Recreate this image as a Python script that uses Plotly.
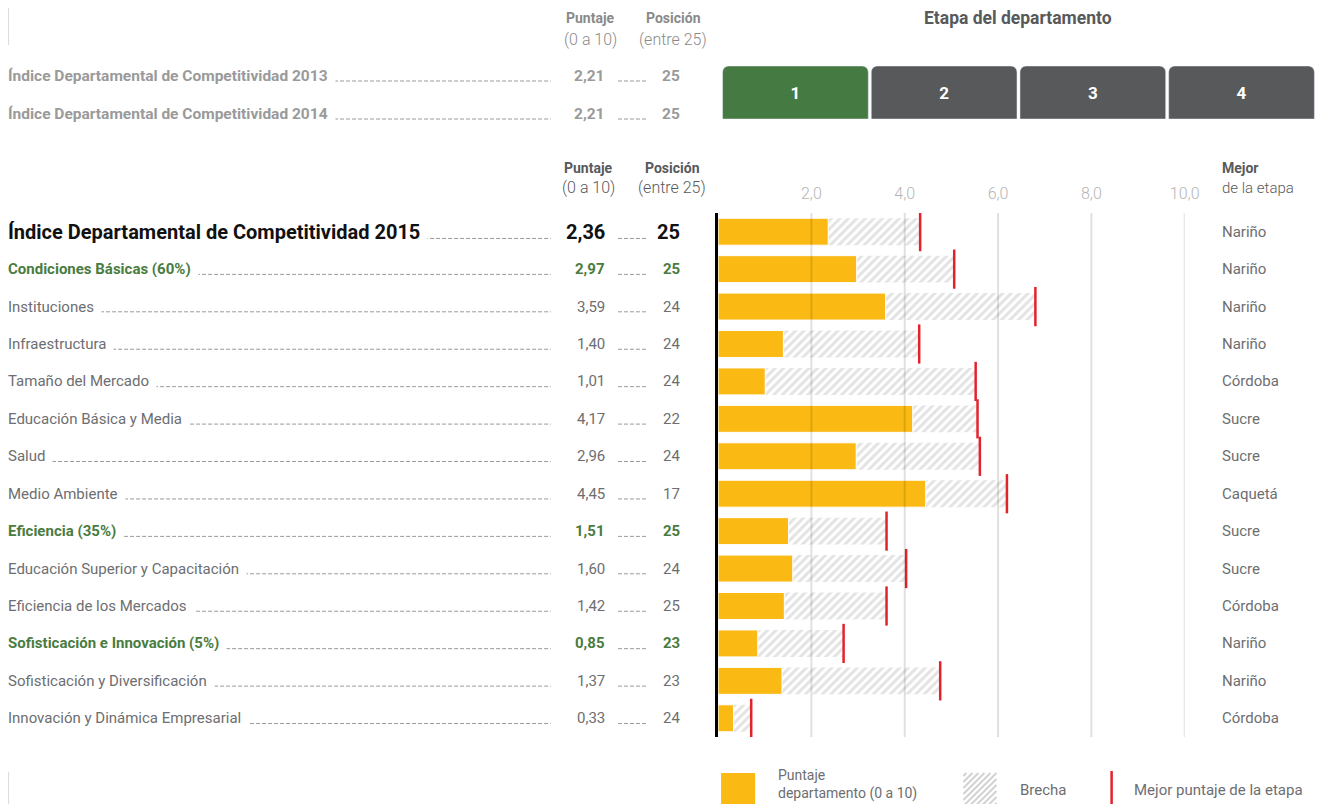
import plotly.graph_objects as go

# page layout compensation: 8px body margin, and the capture squeezes
# the page width slightly (1342 css px -> 1325 px)
MARGIN = 8
K = 1325 / 1342
W, H = 1326, 812 - 2 * MARGIN

# --- data ---
labels = [
    "Índice Departamental de Competitividad 2015",
    "Condiciones Básicas (60%)",
    "Instituciones",
    "Infraestructura",
    "Tamaño del Mercado",
    "Educación Básica y Media",
    "Salud",
    "Medio Ambiente",
    "Eficiencia (35%)",
    "Educación Superior y Capacitación",
    "Eficiencia de los Mercados",
    "Sofisticación e Innovación (5%)",
    "Sofisticación y Diversificación",
    "Innovación y Dinámica Empresarial",
]
levels = ["total", "pillar", "factor", "factor", "factor", "factor", "factor",
          "factor", "pillar", "factor", "factor", "pillar", "factor", "factor"]
scores = [2.36, 2.97, 3.59, 1.40, 1.01, 4.17, 2.96, 4.45, 1.51, 1.60, 1.42, 0.85, 1.37, 0.33]
positions = [25, 25, 24, 24, 24, 22, 24, 17, 25, 24, 25, 23, 23, 24]
best_scores = [4.33, 5.06, 6.80, 4.31, 5.52, 5.56, 5.61, 6.19, 3.61, 4.03, 3.61, 2.69, 4.76, 0.71]
best_depts = ["Nariño", "Nariño", "Nariño", "Nariño", "Córdoba", "Sucre", "Sucre",
              "Caquetá", "Sucre", "Sucre", "Córdoba", "Nariño", "Nariño", "Córdoba"]

prev_labels = ["Índice Departamental de Competitividad 2013",
               "Índice Departamental de Competitividad 2014"]
prev_scores = [2.21, 2.21]
prev_positions = [25, 25]

stages = ["1", "2", "3", "4"]
current_stage = "1"

ticks = [2, 4, 6, 8, 10]

YELLOW = "#fbb913"
GREEN = "#4a7c3f"
BOX_GREEN = "#457a43"
BOX_GRAY = "#58595b"
RED = "#e3232c"
TXT = "#6d6e71"
FONT = "Roboto"


def px(x):
    return (x / K - MARGIN) / W


def py(y):
    return 1 - (y - MARGIN) / H


def fmt(v):
    return f"{v:.2f}".replace(".", ",")


rows = list(range(len(labels)))

fig = go.Figure()

# brecha (gap up to best score of the stage)
fig.add_bar(
    x=[b - s for b, s in zip(best_scores, scores)], base=scores, y=rows,
    orientation="h", width=0.72, hoverinfo="skip",
    marker=dict(color="white", line=dict(width=0),
                pattern=dict(shape="/", fgcolor="#c8c8c8", bgcolor="white",
                             size=6, solidity=0.5)),
)
# department score
fig.add_bar(
    x=scores, y=rows, orientation="h", width=0.72,
    marker=dict(color=YELLOW, cornerradius=4, line=dict(color="white", width=1)),
)
# best score of the stage
fig.add_scatter(
    x=best_scores, y=rows, mode="markers",
    marker=dict(symbol="line-ns", size=28, line=dict(color=RED, width=2.5)),
)

# stage boxes
fig.add_bar(
    x=stages, y=[1] * len(stages), xaxis="x2", yaxis="y2", width=0.98,
    marker=dict(color=[BOX_GREEN if s == current_stage else BOX_GRAY for s in stages],
                cornerradius=6),
    text=stages, textposition="inside", insidetextanchor="middle", textangle=0,
    textfont=dict(color="white", size=17, family=FONT, weight="bold"),
)

shapes = []
ann = []


def add_text(x, y, text, size=15, color=TXT, bold=False, anchor="center",
             yref="paper", bg=None, pad=1, light=False, align="center"):
    a = dict(x=x, y=y, xref="paper", yref=yref, text=text, showarrow=False,
             xanchor=anchor, yanchor="middle", align=align,
             font=dict(family=FONT, size=size, color=color,
                       weight="bold" if bold else (300 if light else "normal")))
    if bg:
        a.update(bgcolor=bg, borderpad=pad)
    ann.append(a)


def dashed(x0, x1, y, yref="paper"):
    shapes.append(dict(type="line", xref="paper", yref=yref, x0=px(x0), x1=px(x1),
                       y0=y, y1=y, line=dict(color="#9a9a9a", width=1, dash="4px,2px")))


# gridlines above bars
for t in ticks:
    shapes.append(dict(type="line", xref="x", yref="paper", x0=t, x1=t,
                       y0=py(737), y1=py(213), layer="above",
                       line=dict(color="rgba(0,0,0,0.12)", width=2)))

# main rows: labels, leaders, scores, positions, best department
for i, (lab, lev) in enumerate(zip(labels, levels)):
    if lev == "total":
        size, color, bold, off = 20, "#111111", True, 0.18
    elif lev == "pillar":
        size, color, bold, off = 15, GREEN, True, 0.14
    else:
        size, color, bold, off = 15, TXT, False, 0.14
    dashed(10, 550, i + off, yref="y")
    dashed(617, 645, i + off, yref="y")
    add_text(px(0), i, lab, size, color, bold, anchor="left", yref="y", bg="white", pad=7)
    add_text(px(606), i, fmt(scores[i]), size, color, bold, anchor="right", yref="y")
    add_text(px(681), i, str(positions[i]), size, color, bold, anchor="right", yref="y")
    add_text(px(1218), i, best_depts[i], 15, TXT, anchor="left", yref="y")

# previous years
for lab, sc, pos, yy in zip(prev_labels, prev_scores, prev_positions, [76, 114]):
    dashed(10, 550, py(yy + 5))
    dashed(617, 645, py(yy + 5))
    add_text(px(0), py(yy), lab, 15.5, "#9a9a9a", True, anchor="left", bg="white", pad=7)
    add_text(px(606), py(yy), fmt(sc), 15.5, "#9a9a9a", True, anchor="right")
    add_text(px(681), py(yy), str(pos), 15.5, "#9a9a9a", True, anchor="right")

# column headers
add_text(px(590), py(18), "Puntaje", 14, "#8a8a8a", True)
add_text(px(590), py(40), "(0 a 10)", 16, "#8a8a8a", light=True)
add_text(px(672), py(18), "Posición", 14, "#8a8a8a", True)
add_text(px(672), py(40), "(entre 25)", 16, "#8a8a8a", light=True)
add_text(px(588), py(168), "Puntaje", 14, "#58595b", True)
add_text(px(588), py(188), "(0 a 10)", 16, "#58595b", light=True)
add_text(px(671), py(168), "Posición", 14, "#58595b", True)
add_text(px(671), py(188), "(entre 25)", 16, "#58595b", light=True)
add_text(px(1218), py(168), "Mejor", 14, "#58595b", True, anchor="left")
add_text(px(1218), py(188), "de la etapa", 15, "#58595b", anchor="left", light=True)
add_text(px(1017), py(18), "Etapa del departamento", 17.5, "#58595b", True)

# small decorative rules on the left
for y0, y1 in [(8, 45), (772, 812)]:
    shapes.append(dict(type="line", xref="paper", yref="paper", x0=px(8), x1=px(8),
                       y0=py(y0), y1=py(y1), line=dict(color="#dddddd", width=2)))

# legend
shapes.append(dict(type="rect", xref="paper", yref="paper", x0=px(720), x1=px(754),
                   y0=py(806), y1=py(773), fillcolor=YELLOW, line=dict(width=0)))
add_text(px(775), py(784), "Puntaje<br>departamento (0 a 10)", 14, TXT,
         anchor="left", align="left")
hx, hy, s = 962, 806, 33
for t in range(-s + 3, s, 6):
    xa, xb = max(0, -t), min(s, s - t)
    shapes.append(dict(type="line", xref="paper", yref="paper",
                       x0=px(hx + xa), x1=px(hx + xb),
                       y0=py(hy - (xa + t)), y1=py(hy - (xb + t)),
                       line=dict(color="#d2d2d2", width=2)))
add_text(px(1017), py(790), "Brecha", 15, TXT, anchor="left")
shapes.append(dict(type="line", xref="paper", yref="paper", x0=px(1110), x1=px(1110),
                   y0=py(771), y1=py(812), line=dict(color=RED, width=2.5)))
add_text(px(1130), py(790), "Mejor puntaje de la etapa", 15, TXT, anchor="left")

fig.update_layout(
    width=W, height=H, margin=dict(l=0, r=0, t=0, b=0),
    paper_bgcolor="white", plot_bgcolor="rgba(0,0,0,0)",
    showlegend=False, barmode="overlay", separators=",.",
    font=dict(family=FONT, color=TXT),
    xaxis=dict(domain=[px(717), px(1183)], range=[0, 10], side="top",
               tickvals=ticks, tickformat=".1f", ticks="", showgrid=False,
               zeroline=False, showline=False, ticklabelstandoff=10,
               tickfont=dict(size=16, color="#b5b5b5", family=FONT, weight=300)),
    yaxis=dict(domain=[py(737), py(213)], range=[len(labels) - 0.5, -0.5],
               showticklabels=False, showgrid=False, zeroline=False,
               showline=True, linecolor="black", linewidth=2.5),
    xaxis2=dict(domain=[px(720), px(1314)], range=[-0.5, 3.5], visible=False,
                type="category", anchor="y2"),
    yaxis2=dict(domain=[py(119), py(66)], range=[0, 1], visible=False, anchor="x2"),
    shapes=shapes, annotations=ann,
)

fig.write_html("out.html")
